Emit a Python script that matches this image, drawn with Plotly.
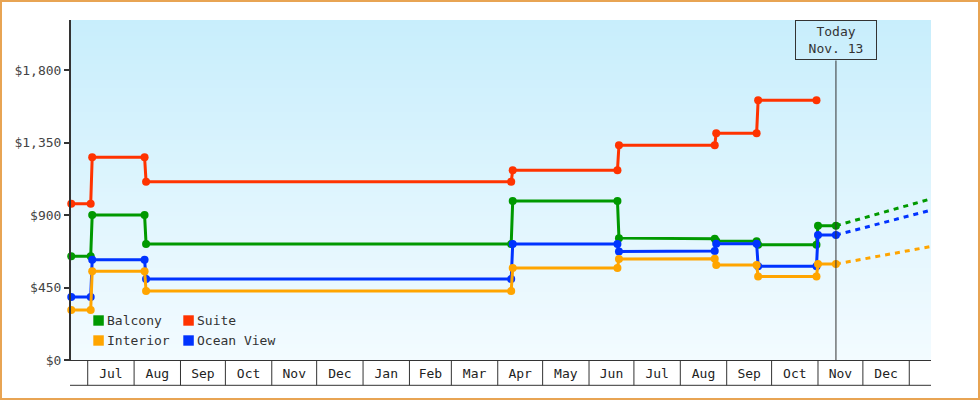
import datetime as dt
import plotly.graph_objects as go

# ---------------- data ----------------
dates = ["2013-06-20", "2013-07-03", "2013-07-04", "2013-08-08", "2013-08-09",
         "2014-04-10", "2014-04-11", "2014-06-20", "2014-06-21", "2014-08-24",
         "2014-08-25", "2014-09-21", "2014-09-22", "2014-10-31", "2014-11-01",
         "2014-11-13"]

suite = [970, 970, 1260, 1260, 1108, 1108, 1179, 1179, 1334, 1334, 1409, 1409, 1614, 1614]
balcony = [645, 645, 900, 900, 720, 720, 987, 987, 757, 753, 739, 737, 716, 716, 834, 834]
ocean_view = [391, 391, 622, 622, 503, 503, 720, 720, 674, 677, 722, 722, 583, 583, 776, 776]
interior = [310, 310, 552, 552, 428, 428, 571, 571, 627, 629, 590, 590, 519, 519, 596, 596]

proj_dates = ["2014-11-13", "2015-01-15 12:00"]
balcony_proj = [834, 1001]
ocean_view_proj = [776, 931]
interior_proj = [596, 705]

today = "2014-11-13"
today_text = "Today<br>Nov. 13"

y_ticks = [0, 450, 900, 1350, 1800]
y_labels = ["$0", "$450", "$900", "$1,350", "$1,800"]

month_starts = ["2013-07", "2013-08", "2013-09", "2013-10", "2013-11", "2013-12",
                "2014-01", "2014-02", "2014-03", "2014-04", "2014-05", "2014-06",
                "2014-07", "2014-08", "2014-09", "2014-10", "2014-11", "2014-12",
                "2015-01"]
month_labels = ["Jul", "Aug", "Sep", "Oct", "Nov", "Dec", "Jan", "Feb", "Mar",
                "Apr", "May", "Jun", "Jul", "Aug", "Sep", "Oct", "Nov", "Dec"]

x_range = ["2013-06-19 20:00", "2015-01-15 12:30"]
y_range = [0, 2112]

colors = {"Balcony": "#009900", "Suite": "#ff3300", "Interior": "#ffa500", "Ocean View": "#0033ff"}
FONT = "DejaVu Sans Mono"

# ---------------- geometry ----------------
W, H = 980, 400
ML, MR, MT, MB = 71, 49, 20, 40
PW, PH = W - ML - MR, H - MT - MB


def px(xp):
    return (xp - ML) / PW


def py(yp):
    return (MT + PH - yp) / PH


fig = go.Figure()

series = [("Suite", suite), ("Balcony", balcony), ("Ocean View", ocean_view), ("Interior", interior)]
for name, vals in series:
    fig.add_trace(go.Scatter(
        x=dates[:len(vals)], y=vals, name=name, mode="lines+markers",
        line=dict(color=colors[name], width=3),
        marker=dict(color=colors[name], size=8, symbol="circle"),
        showlegend=False, cliponaxis=False,
    ))

for name, vals in [("Balcony", balcony_proj), ("Ocean View", ocean_view_proj), ("Interior", interior_proj)]:
    fig.add_trace(go.Scatter(
        x=proj_dates, y=vals, name=name + " (projected)", mode="lines",
        line=dict(color=colors[name], width=3, dash="5px,5px"),
        showlegend=False, hoverinfo="skip",
    ))

shapes = []
# vertical gradient background
n = 85
c1 = (200, 238, 252)
c2 = (243, 251, 255)
for i in range(n):
    t = i / (n - 1)
    c = tuple(round(c1[k] + (c2[k] - c1[k]) * t) for k in range(3))
    shapes.append(dict(type="rect", xref="paper", yref="paper", x0=0, x1=1,
                       y1=1 - i / n, y0=1 - (i + 1) / n - 0.001,
                       fillcolor="rgb(%d,%d,%d)" % c, line=dict(width=0), layer="below"))

# month cells under the axis
cell_bottom = py(385.3)
for m in month_starts:
    shapes.append(dict(type="line", xref="x", yref="paper", x0=m, x1=m, y0=0, y1=cell_bottom,
                       line=dict(color="#333333", width=1)))
shapes.append(dict(type="line", xref="paper", yref="paper", x0=px(70), x1=1, y0=cell_bottom, y1=cell_bottom,
                   line=dict(color="#333333", width=1)))

# today line
shapes.append(dict(type="line", xref="x", yref="paper", x0=today, x1=today, y0=0, y1=py(60.5),
                   line=dict(color="#333333", width=1)))

# outer border
shapes.append(dict(type="rect", xref="paper", yref="paper", x0=px(1), x1=px(979), y0=py(399), y1=py(1),
                   line=dict(color="#e8a453", width=2), fillcolor="rgba(0,0,0,0)"))

annotations = []
annotations.append(dict(x=today, y=1, xref="x", yref="paper", yanchor="top", xanchor="center",
                        text=today_text, showarrow=False, bordercolor="#333333", borderwidth=1,
                        width=78, height=36, font=dict(family=FONT, size=13, color="#333333")))

# legend (manual, square swatches)
legend_items = [("Balcony", 93.3, 320.5), ("Suite", 183.3, 320.5),
                ("Interior", 93.3, 340.5), ("Ocean View", 183.3, 340.5)]
for name, lx, ly in legend_items:
    shapes.append(dict(type="rect", xref="paper", yref="paper",
                       x0=px(lx), x1=px(lx + 10.5), y0=py(ly + 5.2), y1=py(ly - 5.2),
                       fillcolor=colors[name], line=dict(width=0)))
    annotations.append(dict(x=px(lx + 12), y=py(ly), xref="paper", yref="paper", xanchor="left",
                            yanchor="middle", text=name, showarrow=False,
                            font=dict(family=FONT, size=13, color="#333333")))

# month label positions: middle of each month
tickvals = []
for i in range(len(month_labels)):
    a = dt.datetime.strptime(month_starts[i], "%Y-%m")
    b = dt.datetime.strptime(month_starts[i + 1], "%Y-%m")
    tickvals.append((a + (b - a) / 2).strftime("%Y-%m-%d %H:%M"))

fig.update_layout(
    width=W, height=H, margin=dict(l=ML, r=MR, t=MT, b=MB),
    paper_bgcolor="white", plot_bgcolor="white",
    shapes=shapes, annotations=annotations, showlegend=False,
    font=dict(family=FONT, size=13, color="#333333"),
    xaxis=dict(type="date", range=x_range, tickmode="array", tickvals=tickvals, ticktext=month_labels,
               ticks="outside", ticklen=1, tickcolor="rgba(0,0,0,0)", showgrid=False, zeroline=False,
               showline=True, linecolor="#333333", linewidth=1,
               tickfont=dict(family=FONT, size=13, color="#222222"), fixedrange=True),
    yaxis=dict(range=y_range, tickmode="array", tickvals=y_ticks, ticktext=y_labels,
               ticks="outside", ticklen=5, tickwidth=2, tickcolor="#333333", showgrid=False,
               zeroline=False, showline=True, linecolor="#333333", linewidth=2,
               tickfont=dict(family=FONT, size=13, color="#444444"), fixedrange=True),
)

fig.write_html("out.html", config={"displayModeBar": False},
               post_script="document.body.style.margin='0';document.body.style.overflow='hidden';")
